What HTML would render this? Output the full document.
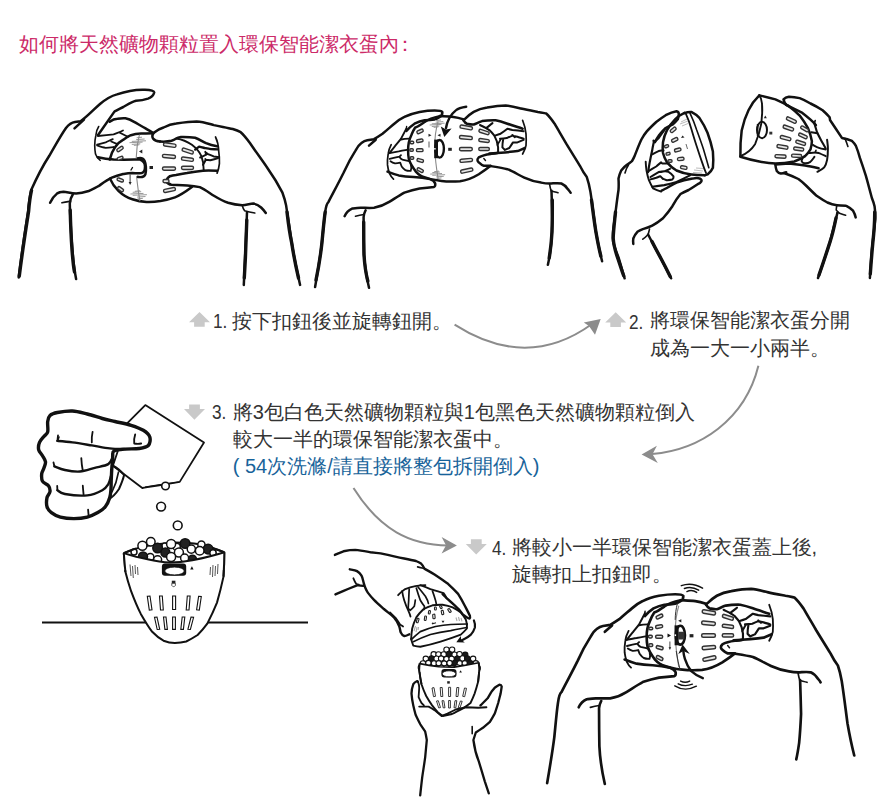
<!DOCTYPE html>
<html><head><meta charset="utf-8">
<style>
html,body{margin:0;padding:0;background:#fff;}
body{width:890px;height:802px;position:relative;overflow:hidden;font-family:"Liberation Sans",sans-serif;}
.t{position:absolute;white-space:nowrap;font-size:20px;line-height:26px;color:#333;}
.title{position:absolute;left:19.3px;top:31px;font-size:19.5px;line-height:26px;color:#cc2a68;white-space:nowrap;}
.blue{color:#17639a;}
.n{transform:scaleX(0.86);transform-origin:0 0;}
svg{position:absolute;left:0;top:0;}
</style></head>
<body>
<div class="title">如何將天然礦物顆粒置入環保智能潔衣蛋內<span style="margin-left:-4px">：</span></div>

<div class="t n" style="left:212.5px;top:308px;">1.</div>
<div class="t" style="left:231.8px;top:308px;">按下扣鈕後並旋轉鈕開。</div>
<div class="t n" style="left:628.5px;top:309px;">2.</div>
<div class="t" style="left:649.5px;top:306px;line-height:28px;">將環保智能潔衣蛋分開<br>成為一大一小兩半。</div>
<div class="t n" style="left:212.3px;top:399px;">3.</div>
<div class="t" style="left:232.7px;top:398.5px;line-height:27px;">將3包白色天然礦物顆粒與1包黑色天然礦物顆粒倒入<br>較大一半的環保智能潔衣蛋中。<br><span class="blue">( 54次洗滌/請直接將整包拆開倒入)</span></div>
<div class="t n" style="left:492px;top:535px;">4.</div>
<div class="t" style="left:511.5px;top:533.8px;line-height:27.5px;">將較小一半環保智能潔衣蛋蓋上後,<br>旋轉扣上扣鈕即。</div>

<svg width="890" height="802" viewBox="0 0 890 802">
<!-- step icons -->
<g fill="#c9c9c9">
<path d="M199.5 312.0 L 210.0 322.2 L 204.7 322.2 L 204.7 326.7 L 194.1 326.7 L 194.1 322.2 L 189.0 322.2 Z"/>
<path d="M615.7 312.2 L 626.2 322.4 L 620.9 322.4 L 620.9 326.9 L 610.3 326.9 L 610.3 322.4 L 605.2 322.4 Z"/>
<path d="M189.1 404.5 L 199.9 404.5 L 199.9 409.1 L 205.0 409.1 L 194.4 419.7 L 184.0 409.1 L 189.1 409.1 Z"/>
<path d="M470.9 539.3 L 481.7 539.3 L 481.7 543.9 L 486.8 543.9 L 476.2 554.5 L 465.8 543.9 L 470.9 543.9 Z"/>
</g>
<!-- curved arrows -->
<g fill="none" stroke="#8c8c8c" stroke-width="2">
<path d="M454.6 324.7 Q 527 371 592 324"/>
<path d="M758.4 365.8 C 745 420 700 450 652 454"/>
<path d="M353.5 488 C 380 530 410 545 448 545.5"/>
</g>
<g fill="#8c8c8c">
<path d="M600.7 319.1 L583.8 322.5 L589 326 L595 334.8 Z"/>
<path d="M641.6 454.4 L656.9 445.8 L652.5 454.2 L657.8 462.9 Z"/>
<path d="M456.9 545.5 L441.6 536.9 L446 545.3 L441.6 553.6 Z"/>
</g>

<g id="ill1" fill="none" stroke="#111" stroke-width="2.5" stroke-linecap="round" stroke-linejoin="round">
<!-- left arm outer + hand + index finger -->
<path d="M18.7 277.5 C 22 250 26 225 28.1 211.5 C 29 200 30 195 31.2 190.1 C 37 177 44 164 49.3 155.8 C 55 146 61 135 66 128 C 69 124 71 122.5 75 122 L 80.5 121.2 C 87 117 93 110 100 104 C 106 99 111 96 117 94.4 C 125 91.5 135 89.3 145 89.7 C 151 90 154.5 91 154.2 92.5 C 153.5 95.5 151 97.5 148 98.6 C 145 99.6 141 100.5 136 100.7 C 131 102 127 105 123.3 107 C 119 109 116.5 110.5 114.4 111.6 L 97.9 135.2"/>
<path d="M74.5 128.3 L 84 119.6"/>
<!-- middle finger top -->
<path d="M109.7 121.8 C 112 120 115 118.7 117.5 118.7 C 120 118.3 123 118.2 125.4 118.3 C 129 119 131 120 134.1 121.8 C 138 124 142 126.5 145.1 128.1 C 148 130 151 131.5 153 132.8"/>
<!-- creases -->
<path d="M97.9 136 C 104 135.5 109 135 113.6 134.4 C 117 133 120 132 123 130.5" stroke-width="1.8"/>
<path d="M119.9 132.8 L 127.8 136.8" stroke-width="1.8"/>
<path d="M97.1 144.6 C 100 143.8 103 143 105.7 142.3 C 108 141.3 110.5 140 112.8 139.1" stroke-width="1.8"/>
<path d="M111.2 141.5 L 116.8 143.8" stroke-width="1.8"/>
<path d="M97.1 145.4 C 100 146.5 103 147.6 105.7 147.8 C 108.5 147.8 111 147.4 113.6 147" stroke-width="1.8"/>
<!-- inner hand edge -->
<path d="M98.7 126.5 C 97 129 96.3 132 95.9 135.2 C 95 139 94.7 142 94.7 145.4 C 94.8 149 95 151.5 95.5 154.1 C 96.5 157 98 159 100.2 160.4" stroke-width="1.6"/>
<!-- left thumb -->
<path d="M97.9 157.2 C 103 158.5 108 159.3 113.6 159.6 C 120 159.8 128 159.8 134.1 159.6 C 137 159.5 139 159.2 140 159.5 C 143 160.5 145 163 145 166.5 C 145 170 143.5 172.5 141.8 173 C 138 173.4 135 173.2 132.4 173 C 128 173.3 126 173.6 123.1 174 C 119 175 115 176.3 111.8 177.7 C 107 180 103 183 99 185.8 C 95 188 91.5 190 88.7 191 C 84 192.5 80 193.3 76.1 193.4 C 71 193.2 67 192 63.5 191.8 C 60.5 191.9 58.5 192.5 57.2 193.4 C 54 196 51.5 199.5 50.1 202.8"/>
<path d="M131 170 L 132.5 167.5" stroke-width="1.4"/>
<!-- wrist / inner arm -->
<path d="M61.9 202.8 C 65 202 68 201.6 70.6 201.2" stroke-width="1.6"/>
<path d="M72.9 194.2 C 71 197 70 200 69.8 203.6 C 70 215 70.8 225 71.3 235 C 72 245 72.8 255 73.7 263.4 C 74.5 270 75.3 275 76.1 279.1"/>
<!-- egg outline -->
<path d="M109.7 159.6 C 111 154 113 150 115.2 147 C 117.5 143.5 120 141.5 123 139.9 C 125.5 138 128 136.5 130.9 135.2 C 134 134.3 137.5 133.8 141.1 133.6 C 145 133.4 149 133.3 153 133.2"/>
<path d="M110 178.6 C 112 183.5 115 187.5 118.4 190.8 C 122.5 194.8 127 197.5 132.4 199.2 C 137 200.8 141.5 201.7 146.5 202 C 151.5 202.2 156 201.8 160.5 201.1 C 165.5 200.2 170.5 199 175 197.4 C 180 195.5 186 191.5 191.9 187.1"/>
<path d="M176.2 138.5 C 183 139.5 188 142 191.9 144.8 C 196 148 199.5 152 201.3 155.8 C 203 160 203.7 165 203.7 170" stroke-width="1.9"/>
<!-- right hand thumb + top contour + arm -->
<path d="M160 141.5 C 157 141.3 154.5 140.5 153 138.5 C 152 136.5 152.5 134 154.2 132.5 C 157 130 160 128.5 163.6 127.5 C 167.5 125.5 171.5 124 176.2 123.5 C 183 122.5 190 121.5 196.6 121.5 C 203 121.8 208 123.5 213.9 125.1 C 220 126.5 227 127.6 232.8 129 C 236 130 238.5 131 240.7 132.2 C 244 135 247 139 250.1 143.2 C 256 152 262 160 267.4 168 C 273 176 278 184 282.3 192.3 C 284 197 285.3 201 286.1 205.4 C 288 218 290 230 291.7 242.8 C 294 257 297 271 300.1 284.9"/>
<!-- right thumb underside -->
<path d="M160 141.5 C 164 141.8 168 141.6 171.5 140.8 C 173.5 140.2 175 139.3 176.2 138.5 C 177.5 137.5 179 137.1 180.9 136.9 C 186 136.8 191 137 195.1 137.7 C 199 139 202.5 141.5 206.1 143.2 C 209.5 144.7 213 145.7 217.1 146.3"/>
<!-- right fingers back -->
<path d="M215.5 136.9 C 217.5 141 218.5 146 218.7 151.1 C 219.3 155 219.6 159.5 219.4 163.7 C 219 167.5 218.2 170.5 217.1 173.1" stroke-width="1.7"/>
<!-- right creases -->
<path d="M195.2 149.6 C 196.5 148.6 197.8 147.6 199.1 146.6 C 201 147 202.8 147.5 204.7 148 C 206.8 148.4 208.8 148.8 210.9 149.1 C 213.1 149.2 215.4 149.3 217.6 149.4" stroke-width="2.4"/>
<path d="M200.2 157.5 C 202.3 156.6 204.3 155.6 206.4 154.7 C 206 153.8 205.7 152.8 205.3 151.9 M 206.5 153 C 207 153.4 207.6 153.8 208.1 154.1 C 210 154.9 211.8 155.7 213.7 156.4 C 215.2 156.6 216.7 156.7 218.2 156.9" stroke-width="2"/>
<path d="M203 164.8 C 204 163.1 204.9 161.4 205.8 159.7 L 205.3 159 M 205.8 159.7 C 207.3 159.9 208.8 160.1 210.3 160.3 C 212.9 159.6 215.6 158.8 218.2 158.1" stroke-width="2"/>






<!-- right lower finger -->
<path d="M166 181 C 167 178.5 168.5 177 169.9 176.2 C 172 175.5 174 175.2 176 175 C 180 174.2 184 173.5 187 173 C 192 172 197 171.2 202.9 170.7 C 207 170.5 212 170.6 217.1 170.7"/>
<path d="M166 181 C 167.5 183.5 169.5 184.5 171.5 184.7 C 177 185 182 185.2 187.2 185.5 C 191.5 185.8 196 186.3 199.8 187.1 C 205 189.5 209.5 193 213.9 195.7 C 218.5 198.5 223 201 228.1 202.8 C 232.5 204.2 237 205 242.2 205.2 C 246 205.2 250 203.8 253.3 203.6 C 256.5 204 259 205.5 261.1 207.5 C 263 209.3 264.5 211 265.8 213"/>
<path d="M242.2 205.2 C 242.8 207.5 243.5 209.5 244.6 210.7 C 247.5 211.5 251 212.3 254.8 213" stroke-width="1.6"/>
<path d="M247 212.2 C 246.5 225 246 238 245.4 250.8 C 244.8 262 244.3 273 243.8 285"/>
</g>
<g id="ill1b" fill="none" stroke="#888" stroke-width="1.1">
<path d="M139.4 134.7 C 137.5 142 136.5 150 136.2 158 M136.5 176 C 137.5 185 138.5 193 139.9 201.1"/>
<path d="M136.6 137.8 L 142.0 137.2 M136.2 139.6 L 144.6 139.0 M131.8 141.4 L 146.0 140.8 M129.5 142.7 L 142.6 142.1 M131.8 144.4 L 140.3 143.8 M133.9 145.4 L 139.3 144.8" fill="none" stroke="#8c8c8c" stroke-width="0.9"/>
<path d="M137.5 198.9 L 142.9 198.3 M137.1 197.1 L 145.5 196.5 M132.7 195.3 L 146.9 194.7 M130.4 194.0 L 143.5 193.4 M132.7 192.3 L 141.2 191.7 M134.8 191.3 L 140.2 190.7" fill="none" stroke="#8c8c8c" stroke-width="0.9"/>
</g>
<g fill="#e6e6e6" stroke="#333" stroke-width="1.4">
<rect x="163.5" y="143.5" width="12.5" height="3.2" rx="1.4" transform="rotate(8 170 145)"/>
<rect x="182" y="149.5" width="11.5" height="3.2" rx="1.4" transform="rotate(18 188 151)"/>
<rect x="162.5" y="154.8" width="13" height="3.2" rx="1.4" transform="rotate(5 169 156)"/>
<rect x="181.5" y="157.5" width="12" height="3.2" rx="1.4" transform="rotate(8 187 159)"/>
<rect x="162.5" y="167" width="13" height="3.2" rx="1.4"/>
<rect x="181.5" y="166.3" width="12" height="3.2" rx="1.4"/>
<rect x="163" y="179.5" width="6" height="3.2" rx="1.4"/>
<rect x="163.5" y="188.5" width="12" height="3.2" rx="1.4" transform="rotate(-12 169 190)"/>
<rect x="116.5" y="147.5" width="7" height="3" rx="1.4" transform="rotate(-35 120 149)"/>
<rect x="117" y="157" width="6" height="2.6" rx="1.2" transform="rotate(-20 120 158)"/>
<rect x="117" y="178.5" width="6.5" height="2.8" rx="1.3" transform="rotate(20 120 180)"/>
<rect x="117.5" y="188" width="6.5" height="2.8" rx="1.3" transform="rotate(35 121 189)"/>
</g>
<!-- button on egg 1 -->
<path d="M137 158.5 C 140 157.5 143 158 144.5 160.5 C 146 163.5 146.5 170 145.5 174 C 144.5 177 141 177.5 137 176.8" fill="none" stroke="#111" stroke-width="2.4"/>
<path d="M139 151.5 L 142.3 149.6 L 142.3 153.4 Z" fill="#222"/>
<rect x="149.5" y="166" width="3.5" height="3" fill="#222"/>
<path d="M130.1 174.5 L 130.1 183" stroke="#333" stroke-width="1"/>
<path d="M128.6 182 L 131.6 182 L 130.1 185 Z" fill="#222"/>


<g id="core2">
<g id="ill2" fill="none" stroke="#111" stroke-width="2.5" stroke-linecap="round" stroke-linejoin="round">
<!-- left arm/hand outer + index -->
<path d="M315.1 287 C 318 270 320 258 321.8 244 C 323 232 324 220 325.2 212 C 326 206 327 203 328.5 201.9 C 333 193 337 186 343.7 172.5 C 348 163 352 156 355.5 150.6 C 358 146 360 144 361.4 143 C 364 141 366 140.4 367.3 140.2 L 374 139.2 C 377 137.5 380 135.5 382.5 133.8 C 387 130 391 126.5 394.3 123.7 C 398 120.5 401 118.5 404.4 116.9 C 409 114.5 414 113 419.6 111.9 C 425 111 430 110.5 434.7 110.5 C 438.5 110.5 441.5 111 442.3 112 C 442.5 114.5 441.5 116 439.8 116.9 C 437.5 118.3 436 119 434.7 119.4 C 431 120 428 120.2 424.6 120.3 C 421 121 417.5 122.3 414.5 123.7 C 411 126 408.5 128.5 406.4 130.9"/>
<path d="M369 145.6 L 375.7 139.7"/>
<path d="M406.4 128.4 C 404.5 132 402.8 135.5 400.9 138.9 C 399.3 141 397.6 143 396 144.9 C 393.8 147.6 391.6 150.2 389.7 152.9" stroke-width="1.9"/><path d="M406.4 128.4 L 406.6 126.5" stroke-width="1.4"/>

<path d="M401 139.5 C 404 139 407 138.8 409.2 138.7" stroke-width="1.8"/>
<path d="M389 153.3 C 392.5 152.5 395.5 151.8 398.7 151.4 C 401.5 150.8 404.5 150.3 406.9 149.9" stroke-width="1.8"/>
<path d="M389.7 158.9 C 393 158 396.5 157.2 399.5 156.7 L 401 155.2 M 399.5 157 C 400.5 158.5 401.5 159.3 402.5 159.7 C 405 160.3 407 160.8 409.2 161.2" stroke-width="1.8"/>
<path d="M390.5 161.2 C 392 162.3 393.5 163 395 163.4 C 397 163.5 399 163 400.2 162.7 C 400.8 164 401 165.3 401.7 166.4 C 402.8 168 404 169.3 405.4 170.1 C 407 170.8 409 171 410.7 170.9 C 411.5 169 411.5 167 411 165.5" stroke-width="1.8"/>
<path d="M391.2 144.7 C 389.7 147.5 388.6 150.5 388.2 153.7 C 387.6 157.5 387.3 161.5 387.5 164.9 C 387.8 168 388.6 171 389.7 173.9 C 390.7 176 392 177.8 393.5 179.1" stroke-width="1.7"/>
<!-- egg left outline -->
<path d="M439.8 116.1 C 433 117.5 428 119.5 424.6 122 C 420 125 417 127.5 415.2 127.5 C 413.5 130 412.3 132.5 411.4 135 C 410.2 137.5 409.3 140 408.8 142.5 C 408.3 145 408.1 147.5 408.1 150 C 408.1 153 408.3 156 408.8 158.9 C 409.5 161 410.3 163 411.4 164.9 C 412.8 167.3 414.3 169.6 415.9 171.6 C 417.5 173.5 419.3 175 421.2 176.1"/>
<!-- left thumb (under egg) -->
<path d="M387.5 171.6 C 391 173 395 174.5 398.7 175.4 C 403.5 176.3 408.5 176.7 413.7 176.9 C 420 177.3 425 178 430 179.1 C 432.5 180 434.5 181.5 435.2 183.5 C 435.5 185.5 435 186.5 434 187 C 430 187.5 425 188 419.6 188.4 C 414 189.5 409 191 404.4 192.6 C 399 195.5 394 199 389.2 201.9 C 385 204.5 379 207 374 207.8 C 369.5 208 365 207.8 360.6 207.8 C 357.5 207.8 355 208.2 352.1 208.6 C 349 210 346 213 344.6 216.2"/>
<path d="M355.5 216.2 C 358.5 215.5 361 215 363.9 214.5" stroke-width="1.6"/>
<path d="M365.6 210.3 C 364.5 212.5 363.8 214.5 363.6 217 C 363.6 230 363.7 240 363.9 252.4 C 364.5 265 366.5 277 369 287.8"/>
<!-- egg right + bottom -->
<path d="M421.2 176.1 C 427 178.5 434 180.3 441.5 181 C 448 181.8 454 181.7 460 181.2 C 466.5 180.5 472.5 178 478.8 174.2 C 483 171.5 487 168.7 490.6 165.8"/>
<path d="M439.8 116.1 C 444 116.3 449 116.3 453.5 116.9 C 457 117.3 460.5 118.3 463.6 119.4"/>
<path d="M480 125 C 482 126 484.1 127.1 486.2 128.1 C 487.5 128.9 488.8 129.7 490 130.6 C 491.5 132.3 493 133.9 494.3 135.6 C 495.2 137.5 496 139.3 496.8 141.2 C 497.3 143.3 497.7 145.3 498.1 147.4 C 498.1 149.3 498.1 151.1 498.1 153" stroke-width="2"/>
<!-- right hand -->
<path d="M463.6 120.3 C 464 119.5 464.5 119 465.3 118.6 C 468 116 470.5 113.8 473.7 111.9 C 478 109.6 482.5 108.3 487.2 107.6 C 493 106.5 499 105.5 505.7 105.5 C 511 106 516 107.3 520.9 108.5 C 526.5 109.8 532 110.8 537.8 111.9 C 541 112.4 543.7 113 546.2 113.5 C 549.5 116.5 552 120 554.6 123.7 C 558.5 130.5 562.5 137 566.4 143.9 C 570.8 151.2 575.5 158.5 579.9 165.8 C 582 170 584 173.5 586.8 177.1 C 588.5 182 589.5 186.5 590.4 191.6 C 592.5 205 594 218 595.8 231.3 C 597.5 241 599.5 251 602.1 261.2"/>
<path d="M463.6 120.3 C 464.5 122 465.5 123.2 467 123.7 C 469.3 124.3 471.5 124.6 473.7 124.5 C 476.5 123.5 479 122 482.1 121.1 C 486.5 120.4 491 120.2 495.6 120.3 C 499.5 121 503.5 122.3 507.4 123.7 C 512.5 125.5 517.5 127 522.6 128.7"/>
<path d="M522.6 120.3 C 524.3 124.5 525.5 129 526 133.8 C 526.3 138 526.3 142 526 145.6 C 525.2 149 524 151.5 522.6 154" stroke-width="1.7"/>
<path d="M486.2 128.1 C 488.3 126.4 490.4 124.8 492.5 123.1" stroke-width="2"/>
<path d="M495 135.6 C 496.9 135 498.8 134.4 500.6 133.7 C 503 132.1 505.2 130.4 507.4 128.7 C 509 129.2 510.7 129.6 512.4 130 C 516.1 130.4 519.9 130.8 523.6 131.2" stroke-width="2"/>
<path d="M500 138.7 C 502.3 138.5 504.5 138.3 506.8 138.1 C 508.7 137.3 510.5 136.5 512.4 135.6 C 514.1 136 515.7 136.4 517.4 136.8 C 519.5 137.4 521.5 138.1 523.6 138.7 M 512.4 135 L 514.9 137.2" stroke-width="2"/>
<path d="M503.1 139.9 C 502.6 142.4 502.4 144.9 502.4 147.4 C 503.2 148.3 504 149.1 504.9 149.9 C 506.4 149.3 507.9 148.6 509.3 148 C 510.6 146.1 511.8 144.3 513 142.4 C 514.5 142.4 515.9 142.4 517.4 142.4 C 519.5 141.6 521.5 140.7 523.6 139.9" stroke-width="2"/>
<path d="M497.5 144.9 C 498.5 143 499.6 141.2 500.6 139.3" stroke-width="1.8"/>



<path d="M489.4 153.6 C 494.6 153.2 499.7 152.8 504.9 152.4 C 509.1 152 513.2 151.6 517.4 151.1 C 519.9 150.1 522.4 149 524.9 148"/>
<path d="M497.3 153.1 C 494.5 153.6 492.3 153.8 490.6 154 C 486 154.6 482 155.5 478.8 157.4 C 477 159 477 161 478.8 162.4 C 480.5 164 482 165.3 483.8 165.8 L 488.9 165.8 C 495 166.8 501.5 167.7 507.4 169.2 C 513 171.5 518.5 174.8 524.3 177.6 C 530 180.2 535.5 181.8 541.1 182.6 C 544.5 183.3 548 183.6 551.2 183.5 C 554.5 183.3 558 182.8 561.4 183.5 C 564 184.5 566 186.5 568.1 189.4 C 569 190.5 570 191.6 570.6 192.8"/>
<path d="M483.8 158.5 L 485.5 160.5" stroke-width="1.4"/>
<path d="M549.6 184.3 C 550 186.5 550.5 189 551.2 191.1 C 553.5 191.7 556 192.2 558 192.8" stroke-width="1.6"/>
<path d="M551.5 190.7 C 551.8 201 552.2 212 552.4 222.3 C 552 231 551.5 240 550.6 249.4 C 549.8 255 549 260 547.9 264.8"/>
</g>
<!-- seam + hatches -->
<g fill="none" stroke="#8a8a8a" stroke-width="1.1">
<path d="M438.1 121.3 C 435.8 129 434.7 138 434.8 147.1 C 435 158 436.3 168 438.1 178.5"/>


</g>
<!-- button ill2 -->
<ellipse cx="439.6" cy="148.8" rx="4.3" ry="8.8" fill="none" stroke="#111" stroke-width="2.4"/>
<path d="M434.2 139.6 L 438 139.6 L 438 158.2 L 434.2 158.2 Z" fill="#111"/>
<rect x="434.2" y="148" width="1.4" height="1.6" fill="#fff"/>
<rect x="448.2" y="147.8" width="3.6" height="3" fill="#222"/>
<path d="M428.5 133.8 L 431.5 135.3 L 428.5 136.8 Z M440.5 133.8 L 437.5 135.3 L 440.5 136.8 Z" fill="#222"/>
<path d="M429 141.5 L 429 147.5" stroke="#444" stroke-width="0.9"/>
<g fill="#e6e6e6" stroke="#333" stroke-width="1.4">
<rect x="416.8" y="130" width="6.5" height="2.8" rx="1.2" transform="rotate(-25 420 131.4)"/>
<rect x="416.5" y="139.3" width="6.5" height="2.8" rx="1.2" transform="rotate(-12 420 140.7)"/>
<rect x="416.5" y="148.8" width="6.5" height="2.8" rx="1.2"/>
<rect x="417" y="159" width="6.5" height="2.8" rx="1.2" transform="rotate(15 420 160.4)"/>
<rect x="417" y="168.6" width="6.5" height="2.8" rx="1.2" transform="rotate(28 420 170)"/>
<rect x="410.2" y="141.3" width="3.5" height="2.5" rx="1" />
<rect x="409.8" y="148.8" width="3.5" height="2.5" rx="1" />
<rect x="410.2" y="156.8" width="3.5" height="2.5" rx="1" />
<rect x="460" y="125.8" width="12.5" height="3.2" rx="1.4" transform="rotate(10 466 127.4)"/>
<rect x="459.5" y="136" width="12.8" height="3.2" rx="1.4" transform="rotate(5 466 137.6)"/>
<rect x="459.5" y="147.5" width="12.8" height="3.2" rx="1.4"/>
<rect x="460" y="158.8" width="12.5" height="3.2" rx="1.4" transform="rotate(-5 466 160.4)"/>
<rect x="460.6" y="169" width="12.3" height="3.2" rx="1.4" transform="rotate(-12 466.7 170.6)"/>
<rect x="478.8" y="130.5" width="10.5" height="3" rx="1.3" transform="rotate(18 484 132)"/>
<rect x="478.8" y="139" width="10.5" height="3" rx="1.3" transform="rotate(8 484 140.5)"/>
<rect x="478.8" y="147.5" width="10.5" height="3" rx="1.3"/>
</g>


</g>
<g fill="none"><path d="M436.1 120.6 L 441.0 120.0 M435.7 122.2 L 443.3 121.6 M431.8 123.8 L 444.6 123.2 M429.7 125.0 L 441.5 124.4 M431.8 126.5 L 439.4 125.9 M433.7 127.4 L 438.5 126.8" fill="none" stroke="#8c8c8c" stroke-width="0.9"/><path d="M436.6 178.5 L 441.5 177.9 M436.2 176.9 L 443.8 176.3 M432.3 175.3 L 445.1 174.7 M430.2 174.1 L 442.0 173.5 M432.3 172.6 L 439.9 172.0 M434.2 171.7 L 439.0 171.1" fill="none" stroke="#8c8c8c" stroke-width="0.9"/></g>
<!-- black curved arrow ill2 -->
<path d="M466.2 106.7 C 461 107.5 458 108.5 456.1 110.1 C 453 112.5 451 115 449.4 118 C 447.5 121.5 446.5 124.5 446 128" fill="none" stroke="#111" stroke-width="2.4" stroke-linecap="round"/>
<path d="M444.3 137 L 440.8 126.4 L 446 129.5 L 451.6 128.5 Z" fill="#111"/>

<g id="ill3" fill="none" stroke="#111" stroke-width="2.5" stroke-linecap="round" stroke-linejoin="round">
<!-- left hand outer -->
<path d="M624.6 278.3 C 622.5 271 620.5 264 618.5 257.4 C 616 251 614 246 613.1 241.2 C 612.8 237.5 612.8 234 613.1 230.4 C 614 223.5 615 217 615.8 210.2 C 616.7 203 617.5 196.5 618.5 190 C 618.8 186 618.7 182 618.5 178.6 C 619.2 175.5 620 173 621.2 170.5 C 622.8 168.3 624.5 166.5 626.6 165.1 C 628.5 163.8 630.3 162.5 632 161.1 C 633 159.3 634 157.5 634.7 155.7 C 637 150 639 144.5 641.4 139.5 C 643 136.5 644.8 133.8 646.8 131.4 C 649.8 128 653 125 656.2 122 C 659.3 119.5 662.5 117.2 665.7 115.2 C 669.3 113.3 673 111.8 676.5 111.2 C 678 111.5 678.8 112.5 678.8 114 C 678.8 116 678.4 117.8 677.8 119.3 C 676.2 121.3 674.5 123 672.4 124.7 C 670.2 125.8 668 126.8 665.7 128 C 663 130.5 661 133 658.9 135.4 C 657.2 137.7 656 140 654.9 142.2"/>
<path d="M625 173 C 625.8 170 627 167 628.5 165" stroke-width="1.6"/>
<!-- bowl -->
<path d="M684.5 112.8 C 680.5 114.5 677.5 116.8 675.1 119.3 C 672 122.5 669.3 126.2 667 130.1 C 665 134 663.7 138 663 142.2 C 662.6 145.8 662.6 149.5 663 153 C 663.8 156.3 665.2 159.5 667 162.4 C 669.5 165.5 672.8 168.3 676.5 170.5 C 681 172.5 686 173.8 691.3 174.5 C 695.8 175 700.3 175.2 704.8 175.2"/>
<path d="M684.5 113.2 C 686.5 112.3 689 111.8 691.3 111.9 C 694.5 113.5 697.2 115.5 699.4 117.9 C 702.5 122.5 705.3 127.5 707.5 132.8 C 709.8 139 711.6 145.3 712.9 151.6 C 713.4 157 713.4 162.5 712.9 167.8 C 711.8 170.5 709.8 172.7 707.5 174.5 C 706.5 175 705.6 175.2 704.8 175.2"/>
<path d="M685.9 113.9 C 688 118.5 689.8 123.5 691.3 128.7 C 693 134.5 694.8 140.5 696.7 146.2 C 698.5 151.8 700.3 157.2 702.1 162.4 C 703.3 166 704.6 169.8 706.1 173.2" stroke-width="1.8"/>
<path d="M690 113.2 C 692.5 118.5 694.8 124.3 696.7 130 C 699 136.3 701.3 142.7 703.4 148.9 C 705.3 155.3 707.1 161.5 708.8 167.8" stroke-width="1.6"/>
<!-- left fingers -->
<path d="M664.3 130 C 662.3 132.7 660.4 135.4 658.6 138.1 C 657 139.5 655.4 140.9 653.8 142.2 L 653.5 140.5 M 653.8 142.2 C 653.2 145 652.6 147.6 652.2 150.3 C 651.3 154.3 650.5 158.4 649.7 162.4 C 649.1 165.6 648.6 168.8 648.1 172.1" stroke-width="2.2"/>
<path d="M652.2 154.3 C 654.3 153.2 656.4 152 658.6 151.1 C 660.2 150.8 661.8 150.5 663.5 150.3" stroke-width="2"/>
<path d="M648.1 171.3 C 650.8 169.7 653.5 168.1 656.2 166.5 C 657.8 165.1 659.5 163.7 661.1 162.4 C 661.5 163 662 163.3 662.5 163.4 C 664.5 163.5 666.5 163.4 668.4 163.2" stroke-width="2"/>
<path d="M650.5 177 C 653.2 175.3 655.9 173.7 658.6 172.1 C 660.5 171.8 662.4 171.5 664.3 171.3 C 666.2 170.5 668.1 169.7 670 168.9 M 661 172 C 663 171.3 666 171 668.5 171.8 C 670.5 172.8 672 174.3 673.5 176.4 C 673.8 177.6 673.3 178.4 672.4 179.4 C 670.5 179.8 668.5 180 666.7 180.2 C 665.3 179.7 664 179.2 662.7 178.6" stroke-width="2"/>
<path d="M650.5 179.4 C 652.4 178.9 654.3 178.4 656.2 177.8 C 657.6 177.3 658.9 176.7 660.3 176.2 C 661.1 177 661.9 177.8 662.7 178.6" stroke-width="2"/>
<path d="M645.7 161.6 C 645.8 164.6 646.1 167.6 646.5 170.5 C 647.1 173.8 647.9 177 648.9 180.2 C 650.1 183 651.5 185.7 653 188.3 C 655.6 189.6 658.3 190.7 661.1 191.6" stroke-width="1.9"/>
<path d="M652.2 186.7 C 656.2 186.3 660.3 185.8 664.3 185.1 C 668.4 184.2 672.5 183.1 676.5 181.9 C 681 179.9 685.5 177.7 690 175.4" stroke-width="2.1"/>
<!-- left thumb bottom/lower edge -->
<path d="M661.6 190.7 C 666 188.5 671 185.5 676.5 182.6 C 681.5 180.8 687 179.5 692.6 178.6 C 695.5 178 698.5 178 700 178.6 C 701.5 179.6 701.7 180.6 701.4 181.3 C 700.5 182.8 699.3 183.6 698 184 C 695 186 692 188 688.6 190 C 686 191.2 683 192.6 680.5 194 C 677.5 197.5 675 201.5 672.4 206.2 C 669.5 210.5 666.3 214.5 663 218.3 C 659.5 221.2 656 223.7 652.2 225.7 C 649 227.3 646 228.3 642.8 229.1 C 640.8 229.8 639 230.7 637.4 231.8 C 635.5 233.8 634.2 236 633.3 238.5 C 633 240.3 633 242 633.3 243.9"/>
<path d="M649.5 229.1 C 649 231 648.6 232.8 648.1 234.5 C 646.5 236.2 644.8 237.8 642.8 239.2" stroke-width="1.6"/>
<path d="M648.1 234.5 C 651.5 241 655.2 248 658.9 254.7 C 663 262.5 667 270.3 671.1 278.3"/>
<!-- right half-egg -->
<path d="M759.3 95.4 C 755 99.5 751.3 104.5 748.5 110.2 C 745.4 116.5 743.2 123.3 741.7 130.4 C 740.6 138.8 740.2 147.4 740.4 156.1"/>
<path d="M759.3 95.4 C 761 97.5 761.8 100.3 762 103.5 C 762.5 110.2 762.2 117 761.3 123.7 C 760 130.7 758 137.5 755.2 143.9 C 751.8 149.3 746.8 153.5 740.4 156.1" stroke-width="1.9"/>
<path d="M759.3 95.4 C 764.5 96.5 770 97.8 775.4 99.4 C 780 101.4 784.5 103.6 788.9 106.2 C 792.6 109 796.3 112.2 799.7 115.6 C 802.6 119.4 805.4 123.5 807.8 127.8 C 809.7 132.2 811.1 136.6 811.9 141.2 C 811.8 144 811.3 146.7 810.5 149.3 C 809 151.8 807.2 154.1 805.1 156.1 C 801.7 158.3 798.1 160.1 794.3 161.5 C 788 162.8 781.7 163.5 775.4 163.5 C 770 163.2 764.6 162.5 759.3 161.5 C 752.8 160.2 746.5 158.6 740.4 156.7"/>
<!-- right hand -->
<path d="M786.2 104.8 C 785 103.5 784 101.5 783.5 99.4 C 785 97.8 787 97 788.9 96.7 C 792.5 96.8 796.2 97.3 799.7 98.1 C 803.4 99.5 807 101.4 810.5 103.5 C 814.7 105.5 818.7 107.7 822.6 110.2 C 825 112.3 827.3 114.6 829.4 117 C 830 118 830 119 830 120 C 832 123 834 126 836 129 C 838 132 840 135 841.9 137.9 C 845.5 138.6 849 139.6 851.9 140.9 C 853.5 142.4 854.8 144 855.9 145.9 C 857.5 149.8 858.8 153.8 859.9 157.9 C 862 163.9 864 169.9 865.9 175.8 C 867.9 183.1 869.8 190.3 871.8 197.8 C 873 200.8 874 203.7 874.6 206.6 C 875.2 210.7 875.4 214.7 875.3 218.7 C 874.3 229 873 239.3 871.9 249.7 C 871.1 259 870.5 268.5 869.9 278"/>
<path d="M844.9 138.4 C 846 141 847 143.7 847.9 146.4" stroke-width="1.6"/>
<path d="M786.2 104.8 C 788.8 106.3 791.5 107.6 794.3 108.9 C 797 110.2 799.7 111.5 802.4 112.9 C 805.2 115 807.9 117.3 810.5 119.7 C 812.4 121.4 814.2 123.2 815.9 125.1"/>


<path d="M814.4 123.2 C814.6 124.1 815.4 126.9 815.9 128.5 C816.4 130.1 816.5 131.0 817.4 133.0 C818.3 135.0 819.8 137.8 821.2 140.4 C822.6 143.0 825.0 147.2 825.7 148.6" stroke-width="2.1"/>
<path d="M814.4 123.2 L 815.2 120.6" stroke-width="1.6"/>
<path d="M811.4 132.2 C812.4 132.4 816.4 133.1 817.4 133.3" stroke-width="2"/>
<path d="M812.9 144.9 C813.9 145.4 816.8 147.2 818.9 147.9 C821.0 148.7 824.6 149.2 825.7 149.4" stroke-width="2"/>
<path d="M808.5 153.1 C809.6 153.0 813.5 152.4 815.2 152.4 C816.9 152.4 817.1 152.5 818.9 153.1 C820.6 153.7 824.6 155.6 825.7 156.1" stroke-width="2"/>
<path d="M815.2 152.4 L 816 150.2" stroke-width="1.6"/>
<path d="M802.5 158.4 C802.4 158.9 801.3 160.6 801.7 161.4 C802.1 162.2 803.3 163.1 804.7 163.2 C806.1 163.3 808.4 163.1 810.0 162.1 C811.6 161.1 813.7 157.8 814.4 156.9" stroke-width="2"/>
<path d="M827.1 139.7 C827.2 141.2 827.9 145.2 827.9 148.6 C827.9 152.0 827.7 156.8 827.1 159.9 C826.5 163.0 825.8 165.3 824.2 167.3 C822.6 169.3 818.5 171.1 817.4 171.8" stroke-width="2"/>




<path d="M775.4 165 C 775.6 167 776 169 776.8 170.9 C 778 172.5 779.3 173.3 780.8 173.6 C 782.6 173.4 784.5 172.8 786.2 172.2"/>
<path d="M775.4 164.5 C 780 164.2 784.5 163.8 788.9 163.5 C 794.3 164 799.7 164.6 805.1 165.5 C 809.6 166.2 814.1 167.2 818.6 168.2"/>
<path d="M784 173 C 789 174.8 794 176.8 798.4 179 C 801.5 181.2 804 183.5 806.5 186 C 810 189.5 813.3 192.8 816.6 195.8 C 820.2 198.3 823.7 200.6 827.4 202.5 C 830.5 204 833.7 204.9 836.9 205.2 C 840 205.5 843.2 205.7 846.3 205.9 C 849 207.3 851.3 208.8 853 210.6 C 854.3 212.8 855.2 215 855.7 217.4"/>
<path d="M836.9 205.2 C 836.5 206.8 836.3 208.5 836.2 210 C 837.3 211.2 838.4 212.3 839.5 213.3 C 841.5 214 843.5 214.7 845.6 215.3" stroke-width="1.6"/>
<path d="M837.5 212.6 C 835 222.3 832.5 232 830.1 241.6 C 826.2 253.8 822.2 266 818 278"/>
</g>
<g fill="#e6e6e6" stroke="#333" stroke-width="1.4">
<rect x="670" y="128.5" width="6.5" height="3" rx="1.3" transform="rotate(-40 673 130)"/>
<rect x="671.5" y="138.5" width="6.5" height="3" rx="1.3" transform="rotate(-25 674.5 140)"/>
<rect x="674.5" y="148.5" width="6.5" height="3" rx="1.3" transform="rotate(-15 677.5 150)"/>
<rect x="677.5" y="157.5" width="6.5" height="3" rx="1.3" transform="rotate(-5 680.5 159)"/>
<rect x="680.5" y="166" width="6.5" height="3" rx="1.3" transform="rotate(10 683.5 167.5)"/>
<rect x="664.5" y="145" width="4" height="2.5" rx="1" transform="rotate(-20 666.5 146)"/>
<rect x="666" y="152.5" width="4" height="2.5" rx="1" transform="rotate(-10 668 153.5)"/>
<rect x="668" y="159.8" width="4" height="2.5" rx="1" />
<rect x="786.2" y="118.5" width="10.5" height="3.2" rx="1.4" transform="rotate(25 791.4 120)"/>
<rect x="783" y="126.5" width="10.8" height="3.2" rx="1.4" transform="rotate(20 788.4 128)"/>
<rect x="780.2" y="136.5" width="10.8" height="3.2" rx="1.4" transform="rotate(15 785.6 138)"/>
<rect x="777" y="145.3" width="11" height="3.2" rx="1.4" transform="rotate(10 782.5 146.7)"/>
<rect x="775" y="154.8" width="11" height="3.2" rx="1.4" transform="rotate(3 780.5 156.3)"/>
<rect x="800.4" y="127.3" width="8.5" height="3" rx="1.3" transform="rotate(30 804.5 128.8)"/>
<rect x="798.4" y="134.5" width="9" height="3" rx="1.3" transform="rotate(25 803 136)"/>
<rect x="795.7" y="141.3" width="10" height="3" rx="1.3" transform="rotate(18 800.7 142.8)"/>
<rect x="793.7" y="147.5" width="10" height="3" rx="1.3" transform="rotate(8 798.7 149)"/>
<rect x="791.6" y="154.3" width="10" height="3" rx="1.3" transform="rotate(3 796.6 155.8)"/>
</g>
<g fill="none" stroke="#aaa" stroke-width="0.8">
<path d="M681 122 L 687 119 M 680 124 L 688 121 M 682 126 L 688 123.5"/>
<path d="M694 170 L 703 171 M 696 168 L 703 168.5 M 693 172.5 L 702 173"/>
</g>
<ellipse cx="762" cy="130" rx="5" ry="8.2" fill="none" stroke="#111" stroke-width="2"/>
<path d="M756.8 124 L 758.4 124 L 758.4 136 L 756.8 136 Z" fill="#111"/>
<path d="M765.3 115.5 L 763.8 118.3 L 766.8 118.3 Z" fill="#222"/>
<rect x="769.3" y="131.7" width="3" height="2.8" fill="#333"/>
<path d="M682.5 135.5 L 684.5 137.5 L 681 138 Z" fill="#222"/>
<path d="M686 144 L 687.5 149" stroke="#444" stroke-width="0.8"/>



<g fill="none" stroke="#111" stroke-width="3.4" stroke-linecap="round">
<path d="M19.3 276 C 22.5 250 26.5 225 28.6 211.5 C 29.5 200 30.5 195 31.5 190.5"/>
<path d="M70.2 210 C 70.6 225 71.3 240 72 250 C 72.8 260 73.6 268 74.5 272"/>
<path d="M287 212 C 288.5 225 290 235 291.7 242.8 C 293.5 255 295.5 265 298.5 278"/>
<path d="M246.8 220 C 246.3 235 245.8 248 245.4 258 C 245 266 244.6 272 244.3 278"/>
<path d="M316 280 C 318.5 268 320.5 256 321.8 244 C 323 232 324 220 325.2 212"/>
<path d="M363.7 222 C 363.7 235 363.8 245 364 255 C 364.7 266 366 274 367.8 281"/>
<path d="M591.5 200 C 593 212 594.3 222 595.8 231.3 C 597.3 240 598.8 248 600.8 256"/>
<path d="M552.3 200 C 552.4 212 552.3 222 552 232 C 551.5 242 550.5 250 549.2 258"/>
<path d="M615.5 212 C 614.5 222 613.5 230 613.2 238 C 613.6 245 615 250 617 256 C 619.5 263 621.5 270 623.8 276"/>
<path d="M652 241.5 C 655 247.5 658 253 661 258.5 C 664.5 265 667.5 271 670.2 276.5"/>
<path d="M874.7 212 C 874.8 222 874 232 872.8 243 C 871.8 254 871 264 870.3 274"/>
<path d="M836 218 C 834 228 832 236 830.1 241.6 C 826.5 253 822.8 264 819 275"/>
</g>

<!-- ill4: fist with packet -->
<g fill="#fff" stroke="#111" stroke-width="1.8" stroke-linejoin="round">
<path d="M127.1 423.3 L 145.3 405.1 L 204 442.5 L 179.7 481.9 C 168 484 155 486 142.3 488 L 112.9 465.7 Z"/>
</g>
<path d="M145 487 C 155 485 167 483.5 179 482" fill="none" stroke="#111" stroke-width="1.2"/>
<g fill="#fff" stroke="#111" stroke-width="1.6">
<circle cx="165.5" cy="486" r="3.8"/>
<circle cx="161.1" cy="506.6" r="4.4"/>
<circle cx="177.7" cy="525.4" r="4.4"/>
</g>
<g fill="#fff" stroke="#111" stroke-width="3.4" stroke-linejoin="round" stroke-linecap="round">
<path d="M50.0 415.5 C51.6 414.0 53.7 413.2 57.4 412.5 C61.1 411.8 67.4 410.8 72.4 411.0 C77.4 411.2 82.3 412.8 87.3 414.0 C92.3 415.2 97.7 417.2 102.3 418.5 C106.9 419.8 110.2 420.4 115.0 421.5 C119.8 422.6 126.4 423.8 131.1 425.3 C135.8 426.8 140.2 428.4 143.3 430.3 C146.4 432.2 149.0 434.5 149.8 437.0 C150.6 439.5 150.1 443.6 148.3 445.5 C146.5 447.4 143.1 447.9 139.2 448.5 C135.3 449.1 129.2 448.7 125.0 449.1 C120.8 449.5 116.0 449.9 114.0 451.0 C112.0 452.1 112.9 454.5 112.7 456.0 C112.5 457.5 112.8 458.3 112.7 460.0 C112.6 461.7 112.2 463.7 112.0 466.0 C111.8 468.3 111.6 471.5 111.5 474.0 C111.4 476.5 111.3 478.6 111.2 481.0 C111.1 483.4 111.2 485.9 111.0 488.7 C110.8 491.5 110.7 494.7 109.7 497.7 C108.8 500.7 107.3 504.2 105.3 506.7 C103.3 509.2 100.8 510.9 97.8 512.6 C94.8 514.3 91.3 516.1 87.3 517.1 C83.3 518.1 78.4 518.6 73.9 518.6 C69.4 518.6 64.2 518.1 60.4 517.1 C56.6 516.1 53.6 514.3 51.4 512.6 C49.2 510.9 47.7 509.2 47.0 506.7 C46.3 504.2 46.5 500.2 47.0 497.7 C47.5 495.2 49.8 493.7 50.0 491.7 C50.2 489.7 49.8 487.4 48.5 485.7 C47.2 483.9 43.6 483.2 42.5 481.2 C41.4 479.2 41.5 476.0 41.7 473.8 C42.0 471.6 43.4 469.8 44.0 467.8 C44.6 465.8 45.8 463.8 45.5 461.8 C45.2 459.8 43.6 457.8 42.5 455.8 C41.4 453.8 39.2 452.0 38.7 449.8 C38.2 447.6 38.6 444.6 39.5 442.4 C40.4 440.2 42.6 438.1 44.0 436.4 C45.4 434.6 47.1 434.4 47.7 431.9 C48.3 429.4 47.3 424.1 47.7 421.4 C48.1 418.7 48.4 417.0 50.0 415.5 Z"/>
</g>
<g fill="none" stroke="#111" stroke-width="2.4" stroke-linecap="round" stroke-linejoin="round">
<path d="M57.4 440.9 C59.9 441.1 66.7 441.6 72.4 442.4 C78.1 443.1 85.6 444.4 91.8 445.4 C98.0 446.4 104.2 447.8 109.7 448.4 C115.2 449.0 122.5 449.0 125.0 449.1"/>
<path d="M54.4 466.3 C56.1 466.9 60.7 469.1 64.9 470.0 C69.2 470.9 74.9 471.9 79.9 471.5 C84.9 471.1 90.1 469.0 94.8 467.8 C99.5 466.6 105.3 465.9 108.3 464.1 C111.2 462.4 111.8 458.4 112.5 457.3"/>
<path d="M57.4 490.2 C58.6 490.8 59.9 493.1 64.9 494.0 C69.9 494.9 81.1 496.0 87.3 495.4 C93.5 494.8 98.8 492.1 102.3 490.2 C105.8 488.3 106.8 486.6 108.3 484.2 C109.8 481.8 110.5 477.4 111.0 476.0"/>
<path d="M57.4 440.9 L 58 435.5" stroke-width="1.8"/><path d="M54.4 466.3 L 53.5 462.5" stroke-width="1.8"/><path d="M57.4 490.2 L 57.2 486" stroke-width="1.8"/>
<path d="M112.9 465.7 C 116.5 467.5 120.5 470.5 124.1 475 C 123 480 121 484.5 119 489 C 116 493.5 112 497.5 108.9 499" stroke-width="2"/>
<path d="M118.5 472 C 117.5 478 115.5 485 112 492" stroke-width="1.6"/>
<path d="M92.6 431.9 C 91.8 435.5 91.6 439 91.8 442.4" stroke-width="1.8"/>
<path d="M81.3 458.1 C 81.5 462.5 82 466.8 82.8 470.8" stroke-width="1.8"/>
<path d="M82.8 485.7 C 83 488.7 83.3 491.7 83.6 494.7" stroke-width="1.8"/>
<path d="M88.1 509.6 C 88.3 512 88.5 514.6 88.8 517.1" stroke-width="1.8"/>
<path d="M59 437 L 57.5 441" stroke-width="1.6"/>
<path d="M135.2 434.4 C 134.2 437.5 133.8 440.5 134.2 443.5 C 136.5 444 139 444 141.2 443.5" stroke-width="1.8"/>
</g>
<!-- table line -->
<path d="M42 622.5 L 308 622.5" stroke="#111" stroke-width="2"/>
<!-- ill5 cup -->
<g stroke="#111" stroke-width="2" stroke-linejoin="round">
<path d="M123.8 553.1 C 124.3 559.5 124.8 565.8 125.4 571.8 C 127 578.5 129 585 131.1 591.2 C 134 599 137 606.5 140.8 613.9 C 144.5 620.3 148 626.3 152.2 631.8 C 155.8 635.6 159.5 638.5 163.5 640.7 C 167.3 642.2 171.1 643 174.9 643.1 C 178.7 642.9 182.5 642.4 186.2 641.5 C 190 639.6 193.8 637.5 197.6 635 C 201 631.5 204.3 627.7 207.3 623.6 C 210.7 617 214 610 217 602.6 C 219.5 594 221.6 585.4 223.5 576.6 C 224.1 568.5 224.3 560.4 224.3 552.3 C 218 549.5 211 547 199.2 544.2 C 191 543 183 542.7 174.9 542.6 C 163.5 543.5 152.5 545 142.4 546.6 C 136 548.5 129.8 550.8 123.8 553.1 Z" fill="#fff"/>
</g>
<g stroke="#111" stroke-width="1.5">
<circle cx="142.4" cy="545.7" r="4.5" fill="#fff"/>
<circle cx="150.8" cy="541.8" r="4.3" fill="#fff"/>
<circle cx="164.9" cy="546.3" r="3.2" fill="#fff"/>
<circle cx="176.7" cy="546.9" r="3.6" fill="#fff"/>
<circle cx="171.1" cy="544" r="4.5" fill="#fff"/>
<circle cx="201.4" cy="544.6" r="3.6" fill="#fff"/>
<circle cx="185.1" cy="543.5" r="4.8" fill="#222"/>
<circle cx="157.6" cy="548" r="4.8" fill="#222"/>
<circle cx="191.3" cy="549.1" r="4.1" fill="#fff"/>
<circle cx="208.1" cy="549.1" r="4.8" fill="#222"/>
<circle cx="199.7" cy="550.8" r="4.3" fill="#fff"/>
<circle cx="165.4" cy="552.5" r="4.5" fill="#222"/>
<circle cx="178.9" cy="552.5" r="4.5" fill="#fff"/>
<circle cx="150.3" cy="557" r="3.6" fill="#fff"/>
<circle cx="143" cy="556.4" r="4.5" fill="#222"/>
<circle cx="157.6" cy="559.8" r="4" fill="#fff"/>
<circle cx="192.4" cy="559.2" r="4" fill="#222"/>
<circle cx="184.6" cy="558.1" r="4" fill="#fff"/>
<circle cx="171.1" cy="557" r="4.5" fill="#fff"/>
<circle cx="213" cy="553" r="3.2" fill="#fff"/>
<circle cx="134" cy="552" r="3" fill="#fff"/>
</g>
<!-- rim front mask -->
<path d="M123.8 553.1 C 131 555.5 139 557.8 147.5 559.2 C 155 561 162.5 562.3 170 562.6 C 177.5 562.5 185 561.6 192.4 560.3 C 203 558.2 213.5 555.8 224.3 552.3 L 224.3 570 L 123.8 570 Z" fill="#fff"/>
<path d="M123.8 553.1 C 131 555.5 139 557.8 147.5 559.2 C 155 561 162.5 562.3 170 562.6 C 177.5 562.5 185 561.6 192.4 560.3 C 203 558.2 213.5 555.8 224.3 552.3" fill="none" stroke="#111" stroke-width="2"/>
<path d="M123.8 553.1 C 124.3 559.5 124.8 565.8 125.4 571.8 M 224.3 552.3 C 224.3 560 224 568 223.5 576.6" fill="none" stroke="#111" stroke-width="2"/>
<path d="M123.8 553.1 C 128 551.3 132 549.8 136 548.5 M 224.3 552.3 C 221 551 217 549.5 213 548.5" fill="none" stroke="#111" stroke-width="2"/>
<!-- button -->
<rect x="161.9" y="563.6" width="24.3" height="12.2" rx="3" fill="#111"/>
<ellipse cx="174.5" cy="571" rx="9.8" ry="4" fill="#fff" stroke="#111" stroke-width="1"/>
<path d="M190.2 569.5 L 191.9 566.3 L 193.6 569.5 Z" fill="#111"/>
<rect x="171.8" y="580.7" width="3.6" height="2.6" fill="#222"/>
<path d="M171.8 583.3 L 175.4 583.3 L 175.4 585.5 C 174.5 587 172.7 587 171.8 585.5 Z" fill="none" stroke="#333" stroke-width="0.8"/>
<g fill="none" stroke="#444" stroke-width="0.9">
<path d="M130 564.5 L 131 576 M 132.5 566 L 133.3 578 M 135 565 L 135.5 574 M 137.5 567 L 138 575"/>
<path d="M210.5 567 L 210 575 M 213 565 L 212.5 577 M 215.5 566 L 215 576 M 218 564 L 217.5 574"/>
</g>
<g fill="none" stroke="#111" stroke-width="1.1">
<path d="M147.3 596.3 L 150 596 L 152 609.8 L 149.3 610.1 Z"/>
<path d="M159.5 596 L 162.3 596 L 163.3 610 L 160.5 610 Z"/>
<path d="M172.6 596 L 175.6 596 L 175.6 609.5 L 172.6 609.5 Z"/>
<path d="M187.3 596 L 190.1 596 L 189 610 L 186.2 610 Z"/>
<path d="M198.6 596.3 L 201.3 596.6 L 199.3 610.1 L 196.6 609.8 Z"/>
<path d="M154.5 617.3 L 157 617 L 159.7 629.3 L 157.2 629.5 Z"/>
<path d="M163.5 617 L 166 617 L 167.4 629.4 L 164.9 629.4 Z"/>
<path d="M172.6 617 L 175.4 617 L 175.4 629.4 L 172.6 629.4 Z"/>
<path d="M182.2 617 L 184.8 617 L 183.4 629.4 L 180.8 629.4 Z"/>
<path d="M191 617 L 193.6 617.3 L 190.4 629.5 L 187.9 629.3 Z"/>
</g>


<!-- ill6 -->
<g fill="none" stroke="#111" stroke-width="2.4" stroke-linecap="round" stroke-linejoin="round">
<path d="M334.9 554.9 C 337.8 553.6 340.6 552.3 343.5 551.3 C 347.4 550.5 351.3 549.9 355.2 549.9 C 360.3 550.6 365.3 551.4 370.4 552.2 C 373.8 552.6 377.2 553 380.6 553.4 C 388.5 555.2 396.5 557 404.2 558.5 C 408.2 559.3 412.2 560.1 416 561 C 417.8 561.7 419.5 562.5 421 563.5 C 422.5 565 423.6 566.7 424.4 568.6 C 427.8 570.6 431.2 572.5 434.5 574.5 C 439 577.5 443.7 580.6 448 583.8 C 451.5 587 455 590.4 458.1 593.9 C 460.5 597.7 462.7 601.6 464.8 605.7 C 466.5 609 468.3 612.4 469.9 615.8 C 470.3 617.2 470 618.2 469.5 618.6 C 468.5 618.6 467.6 618 466.9 617.4 C 465.5 616.4 464.1 615.4 462.8 614.4 C 461.4 612.7 460.1 611 458.8 609.3 C 457.5 608 456.1 606.6 454.7 605.3 C 452 602.9 449.3 600.6 446.6 598.2 C 445.2 596.9 443.9 595.5 442.6 594.2"/>
<path d="M417.6 566.9 C 419.8 567.4 422 568 424.4 568.6" stroke-width="1.6"/>
<path d="M335.4 594.4 C 339.6 592.6 343.8 590.8 348 589 C 351 587.8 354 586.6 357 585.4 C 359.1 585.3 361.2 585.5 363.3 585.9"/>
<path d="M349.8 569.3 C351.0 569.6 355.1 570.0 357.0 571.1 C358.9 572.2 360.4 573.7 361.5 575.6 C362.6 577.5 363.1 580.8 363.7 582.8 C364.3 584.8 364.5 585.9 365.2 587.5 C365.9 589.1 366.3 590.6 367.8 592.6 C369.3 594.6 371.3 597.1 374.0 599.8 C376.7 602.5 380.6 606.0 383.9 609.0 C387.2 612.0 391.5 614.7 394.0 617.5 C396.5 620.3 398.0 623.4 399.1 625.9 C400.2 628.4 400.0 630.9 400.8 632.6 C401.6 634.3 402.8 635.7 404.2 636.0 C405.6 636.3 408.4 634.6 409.2 634.3"/>
<path d="M353.4 578.3 C 354.2 580.2 355 582 356.1 583.7 C 357 584.2 357.8 584.4 358.8 584.6" stroke-width="1.8"/>
<!-- finger lines over dome -->
<path d="M398.1 595.2 C 400.3 592.8 402.7 590.8 405.2 589.1 C 408.5 587.8 411.9 586.8 415.3 586.1 C 418.6 585.6 422 585.2 425.4 585.1" stroke-width="1.8"/>
<path d="M420.3 585.1 C 423.7 586.3 427.1 587.6 430.4 589.1 C 434.8 590.4 439.2 591.7 443.6 593.1 C 444.8 594.7 445.8 596.4 446.6 598.2" stroke-width="1.8"/>
<path d="M402.1 591.1 C 402.6 594.1 403.3 597.2 404.2 600.2 C 405.3 603.6 406.6 607 408.2 610.3 C 409.2 612.5 410.1 614.6 410.5 616.5" stroke-width="1.8"/>
<path d="M409.2 589.1 C 409 592.8 408.8 596.5 408.7 600.2 C 408.5 602.9 408.3 605.6 408.2 608.3 C 408.9 609.2 409.5 609.9 410.2 610.3 C 411.7 609.2 413.1 607.8 414.3 606.3 C 414.8 604.3 415.1 602.2 415.3 600" stroke-width="1.7"/>
<path d="M416.3 588.1 C 417.5 592.2 418.8 596.2 420.3 600.2 C 421.6 602.4 423 604.4 424.4 606.3 C 424.5 607.5 424.3 608.5 424 609.5" stroke-width="1.7"/>
<path d="M418 587 C 420.5 590 423 593.2 425.4 596.2 C 426.8 598.5 428 600.8 428.4 603.5" stroke-width="1.7"/>
<path d="M432.5 591.1 C 433.6 594.1 434.6 597.1 435.5 600.2 C 435.9 601.7 436.2 603.2 436.5 604.8" stroke-width="1.7"/>
<path d="M390 612.4 C 392 614.4 394.1 616.4 396.1 618.4 C 397.5 620.4 398.8 622.5 400.1 624.5 C 401.1 625.2 402.1 625.8 403.1 626.5" stroke-width="1.7"/>
<!-- dome -->
<path d="M411.2 638.7 C 411.3 635.3 411.6 631.9 412.2 628.5 C 413.2 624.7 414.6 621 416.3 617.4 C 418.4 614.5 420.8 611.8 423.4 609.3 C 426.3 607.5 429.4 606.2 432.5 605.3 C 435.9 604.8 439.2 604.6 442.6 604.8 C 446 605.4 449.4 606.2 452.7 607.3 C 455.5 608.8 458.2 610.5 460.8 612.4 C 462.6 614.6 464.3 617 465.8 619.4 C 466.3 621.1 466.7 622.8 466.9 624.5" stroke-width="1.9"/>
<path d="M411.2 639.7 C 414 637 417 634.2 420.3 631.6 C 425.2 629.6 430.3 627.8 435.5 626.5 C 440.5 625.6 445.6 624.9 450.7 624.5 C 456.1 624.2 461.5 624.1 466.9 624" stroke-width="1.7"/>
<path d="M413.3 641.7 C 418.8 639.1 424.5 636.7 430.4 634.6 C 437 632.9 443.8 631.6 450.7 630.6 C 456.1 629.5 461.5 628.4 466.9 627.5" stroke-width="1.6"/>
<path d="M411.2 638.7 C 411.6 641.2 412.3 643.5 413.3 645.7 C 415.6 646.3 418 646.7 420.3 646.7 C 427.2 645.5 434 643.8 440.6 641.7 C 447.4 639.5 454.2 637.1 460.8 634.6 C 463 632.7 465.1 630.6 466.9 628.5 L 466.9 624" stroke-width="1.9"/>
</g>
<g fill="none" stroke="#222" stroke-width="1.1">
<rect x="416.8" y="618.3" width="1.8" height="4.5" rx="0.7" transform="rotate(18 417.7 620.5)"/>
<rect x="424.5" y="616" width="1.8" height="4.5" rx="0.7" transform="rotate(8 425.4 618.2)"/>
<rect x="428.5" y="610.5" width="1.8" height="3.5" rx="0.7" transform="rotate(10 429.4 612.2)"/>
<rect x="432.8" y="614.2" width="2.2" height="4.5" rx="0.7" transform="rotate(-5 433.9 616.4)"/>
<rect x="441.5" y="610.4" width="2" height="4.2" rx="0.7" transform="rotate(-12 442.5 612.5)"/>
<rect x="448.5" y="608.5" width="2" height="4" rx="0.7" transform="rotate(-35 449.5 610.5)"/>
<rect x="434.5" y="607" width="1.8" height="3" rx="0.7"/>
<rect x="440" y="605.5" width="1.8" height="3" rx="0.7" transform="rotate(-30 441 607)"/>
<path d="M432 624 L 436 622.8 M 432 624 L 433.2 622.6"/>
<path d="M414 631 L 415.5 626 M 416 632 L 417 627 M 418 630 L 418.6 627" stroke="#aaa"/>
<path d="M457 621 L 456 617.5 M 459.5 621 L 458.5 617 M 462 621.3 L 461 618" stroke="#aaa"/>
</g>
<path d="M441.5 620.8 L 444.5 620.8 L 443 623 Z" fill="#222"/>
<!-- black arrow ill6 -->
<path d="M473.9 620.4 C 474.9 622.8 475.2 625.2 474.9 627.5 C 474.1 630.1 472.7 632.5 470.9 634.6 C 469 636.3 466.9 637.7 464.8 638.7 C 463 639.7 461.8 640.3 460.5 640.8" fill="none" stroke="#111" stroke-width="2.2" stroke-linecap="round"/>
<path d="M456.3 642.3 L 460.8 636 L 461.2 639.8 L 464.8 642.6 Z" fill="#111"/>
<!-- ill6 cup -->
<g stroke="#111" stroke-width="1.9" stroke-linejoin="round">
<path d="M419.7 663.6 C 419.4 666 419.2 668 419.2 670 C 419.8 674.8 420.5 679.5 421.5 684.2 C 422.8 688.2 424.4 692.1 426.2 696 C 428 699.2 430 702.4 432.1 705.4 C 434 707.9 436 710.3 438 712.5 C 439.5 713.8 441.1 715 442.8 716 L 452 714 C 456 712 459.5 710 462.6 708.6 C 465.5 706.8 468 705 470.5 703 C 472 699.9 473.4 696.8 474.6 693.6 C 475.9 689.7 477.1 685.8 478.1 681.8 C 478.6 677.9 478.9 674 479.3 670 C 479.2 667.6 479 665.2 478.7 662.8 C 470 661 460 659 449 659 C 438 659.5 428 661.5 419.7 663.6 Z" fill="#fff"/>
</g>
<g stroke="#111" stroke-width="1.1">
<circle cx="446.5" cy="649.7" r="2.7" fill="#fff"/>
<circle cx="452.1" cy="649.7" r="2.7" fill="#fff"/>
<circle cx="433.7" cy="654.3" r="2.7" fill="#fff"/>
<circle cx="438.5" cy="654.4" r="2.7" fill="#fff"/>
<circle cx="443.7" cy="654.4" r="2.7" fill="#fff"/>
<circle cx="449.0" cy="654.1" r="2.7" fill="#1a1a1a"/>
<circle cx="454.6" cy="654.7" r="2.7" fill="#fff"/>
<circle cx="459.5" cy="654.2" r="2.7" fill="#fff"/>
<circle cx="465.2" cy="654.8" r="2.7" fill="#1a1a1a"/>
<circle cx="425.8" cy="658.8" r="2.7" fill="#fff"/>
<circle cx="431.5" cy="658.5" r="2.7" fill="#1a1a1a"/>
<circle cx="436.6" cy="658.7" r="2.7" fill="#fff"/>
<circle cx="441.1" cy="658.6" r="2.7" fill="#fff"/>
<circle cx="446.5" cy="659.1" r="2.7" fill="#fff"/>
<circle cx="451.6" cy="658.9" r="2.7" fill="#fff"/>
<circle cx="457.3" cy="658.8" r="2.7" fill="#1a1a1a"/>
<circle cx="462.5" cy="658.5" r="2.7" fill="#fff"/>
<circle cx="467.2" cy="658.6" r="2.7" fill="#1a1a1a"/>
<circle cx="473.1" cy="658.8" r="2.7" fill="#fff"/>
<circle cx="423.0" cy="663.4" r="2.7" fill="#fff"/>
<circle cx="428.4" cy="663.1" r="2.7" fill="#fff"/>
<circle cx="434.0" cy="663.4" r="2.7" fill="#fff"/>
<circle cx="438.7" cy="663.3" r="2.7" fill="#fff"/>
<circle cx="444.2" cy="663.6" r="2.7" fill="#fff"/>
<circle cx="449.6" cy="663.1" r="2.7" fill="#fff"/>
<circle cx="455.1" cy="663.0" r="2.7" fill="#1a1a1a"/>
<circle cx="459.8" cy="663.5" r="2.7" fill="#fff"/>
<circle cx="464.8" cy="663.3" r="2.7" fill="#fff"/>
<circle cx="469.9" cy="663.4" r="2.7" fill="#1a1a1a"/>
<circle cx="475.8" cy="663.3" r="2.7" fill="#fff"/>
<circle cx="420.9" cy="667.6" r="2.7" fill="#fff"/>
<circle cx="425.9" cy="667.8" r="2.7" fill="#1a1a1a"/>
<circle cx="431.1" cy="667.7" r="2.7" fill="#fff"/>
<circle cx="436.6" cy="668.1" r="2.7" fill="#fff"/>
<circle cx="441.4" cy="667.8" r="2.7" fill="#fff"/>
<circle cx="446.3" cy="667.9" r="2.7" fill="#fff"/>
<circle cx="452.1" cy="668.1" r="2.7" fill="#fff"/>
<circle cx="457.5" cy="667.5" r="2.7" fill="#fff"/>
<circle cx="462.3" cy="667.8" r="2.7" fill="#1a1a1a"/>
<circle cx="467.2" cy="667.7" r="2.7" fill="#1a1a1a"/>
<circle cx="472.5" cy="667.4" r="2.7" fill="#fff"/>
<circle cx="477.7" cy="667.9" r="2.7" fill="#fff"/>
</g>
<path d="M419.7 663.6 C 426 665 432 666 438.6 666.7 C 443.8 667 449 667.2 454.3 667.1 C 462.5 666 470.6 664.5 478.7 662.8 L 478.7 672 L 419.7 672 Z" fill="#fff"/>
<path d="M419.7 663.6 C 426 665 432 666 438.6 666.7 C 443.8 667 449 667.2 454.3 667.1 C 462.5 666 470.6 664.5 478.7 662.8" fill="none" stroke="#111" stroke-width="1.6"/>
<path d="M419.7 663.6 C 419.4 666 419.2 668 419.2 670 C 419.8 674.8 420.5 679.5 421.5 684.2 M 478.7 662.8 C 479 665.2 479.2 667.6 479.3 670 C 478.9 674 478.6 677.9 478.1 681.8" fill="none" stroke="#111" stroke-width="1.9"/>
<rect x="441.4" y="669" width="15.1" height="8.5" rx="3" fill="#111"/>
<ellipse cx="449" cy="673.8" rx="6.8" ry="3" fill="#fff" stroke="#111" stroke-width="0.8"/>
<path d="M459.3 672.6 L 460.6 670.3 L 461.9 672.6 Z" fill="#111"/>
<rect x="447.2" y="681.2" width="2.6" height="2.4" fill="#222"/>
<g fill="none" stroke="#222" stroke-width="0.9">
<path d="M432 688 L 434 687.6 L 435.5 696.3 L 433.5 696.7 Z"/>
<path d="M440.2 687.5 L 442.2 687.5 L 442.8 696.5 L 440.8 696.5 Z"/>
<path d="M448.6 687.3 L 450.6 687.3 L 450.6 696.5 L 448.6 696.5 Z"/>
<path d="M456.8 687.5 L 458.8 687.5 L 458 696.5 L 456 696.5 Z"/>
<path d="M464.5 688 L 466.5 688.3 L 464.7 696.7 L 462.7 696.3 Z"/>
<path d="M436.5 701 L 438.3 700.7 L 440.5 707.6 L 438.7 707.9 Z"/>
<path d="M442 700.7 L 443.8 700.7 L 445 707.8 L 443.2 707.8 Z"/>
<path d="M448.6 700.5 L 450.4 700.5 L 450.4 708 L 448.6 708 Z"/>
<path d="M455 700.7 L 456.8 700.7 L 455.8 707.8 L 454 707.8 Z"/>
<path d="M460.4 701 L 462.2 701.3 L 460 707.9 L 458.2 707.6 Z"/>
</g>
<!-- hands under cup -->
<g fill="none" stroke="#111" stroke-width="2.1" stroke-linecap="round" stroke-linejoin="round">
<path d="M418 681.8 C 417.5 681 417 681 416.8 681.2 C 415.3 681.9 414.1 682.9 413.3 684.2 C 412.2 687.2 411.6 690.4 411.5 693.6 C 411.8 697.6 412.4 701.5 413.3 705.4 C 414 708.6 414.8 711.7 415.6 714.8 C 417.1 718 418.6 721.2 420.3 724.3 C 421.9 726.6 423.5 729 425.1 731.3 C 425.8 734.2 426.3 737.1 426.8 740 C 426.3 745.5 425.8 751 425.2 757.1 C 424.3 763.8 423.2 770.5 422.2 777.3 C 421.5 783.3 420.8 789.3 420.2 795.4" stroke-width="2.3"/>
<path d="M418 681.8 C 418.8 683.7 419.2 685.7 419.2 687.7 C 419.1 690.8 418.8 694 418.6 697.1 C 419.5 699.1 420.4 701.1 421.5 703 C 422.3 703.8 423.1 704.6 423.9 705.4" stroke-width="1.8"/>
<path d="M419.2 706.6 C 422.3 706.6 425.5 706.6 428.6 706.6 C 430.6 707.7 432.6 708.9 434.5 710.1 C 436.9 712.1 439.2 714 441.6 716 C 443.6 715.3 445.6 714.5 447.5 713.7 C 450.2 712.3 452.9 710.9 455.7 709.5 C 459.2 708.7 462.8 707.9 466.3 707.2 C 470.2 707.4 474.2 707.6 478.1 707.8 C 480.9 707.6 483.6 707.4 486.4 707.2" stroke-width="1.9"/>
<path d="M480.5 705.4 C 482.9 703 485.3 700.7 487.6 698.3 C 488.8 696.3 489.9 694.4 491.1 692.4 C 492.3 690.8 493.5 689.3 494.7 687.7 C 496.2 686.6 497.8 685.6 499.4 684.7 C 500.6 684.8 501.5 685.5 501.7 686.5 C 501.4 688.9 501 691.2 500.6 693.6 C 499.8 696.7 499 699.9 498.2 703 C 497.1 706.6 495.9 710.1 494.7 713.7 C 493.1 716.4 491.5 719.2 489.9 721.9 C 487.6 723.9 485.2 725.8 482.9 727.8 C 480.5 729.4 478.2 730.9 475.8 732.5 C 475 735 474.2 737.5 473.4 740 C 474.3 747 475.8 754 478.7 761.1 C 480.7 767.8 482.8 774.6 484.8 781.3 C 486.1 785.3 487.5 789.4 488.8 793.4" stroke-width="2.3"/>
<path d="M472.2 726.6 C 472.2 729 472.2 731.3 472.2 733.7" stroke-width="1.6"/>
</g>
<!-- ill7 -->
<use href="#core2" transform="matrix(1.07 0 0 1.07 210 476)"/>
<rect x="665.5" y="617.5" width="7.5" height="19" fill="#fff"/>
<path d="M677.4 603.4 C 676 609 675.2 614.5 675.2 619.9 M 676.2 651 C 677.2 658 678.6 664.5 680.4 670.8" fill="none" stroke="#333" stroke-width="1"/>
<path d="M667.5 633.6 L 671 635.6 L 667.5 637.6 Z" fill="#111"/>
<path d="M669.9 641.5 L 669.9 648" stroke="#333" stroke-width="0.9"/>
<path d="M668.6 647.2 L 671.2 647.2 L 669.9 650 Z" fill="#222"/>
<rect x="678.2" y="631.8" width="6.2" height="7.6" rx="1" fill="#333"/>
<path d="M702.8 678.2 C 698.5 676.5 694.5 674 690.9 670.8 C 688.3 667.2 686.3 663.1 684.9 658.8 C 684.1 656.3 683.6 653.8 683.4 651.3" fill="none" stroke="#111" stroke-width="2.4" stroke-linecap="round"/>
<path d="M682.6 644.5 L 678.3 654 L 683.3 651 L 689.8 654 Z" fill="#111"/>
<g fill="none" stroke="#111" stroke-width="1.4" stroke-linecap="round">
<path d="M681.3 585.7 C 688 583.2 695.5 584 702.6 588.2"/>
<path d="M684.4 588.5 C 689 586.8 694 587.4 698.7 590.2"/>
<path d="M686.9 591.6 C 690 590 693.5 590.3 696.7 592.4"/>
<path d="M674.8 685.8 C 681.5 690 689.5 689.8 696.4 686.2"/>
<path d="M678.2 683.8 C 682.5 686 687.8 686 692.4 684.2"/>
<path d="M680.6 681.1 C 683.5 682.5 686.8 682.5 689.7 681.1"/>
</g>

</svg>
</body></html>
